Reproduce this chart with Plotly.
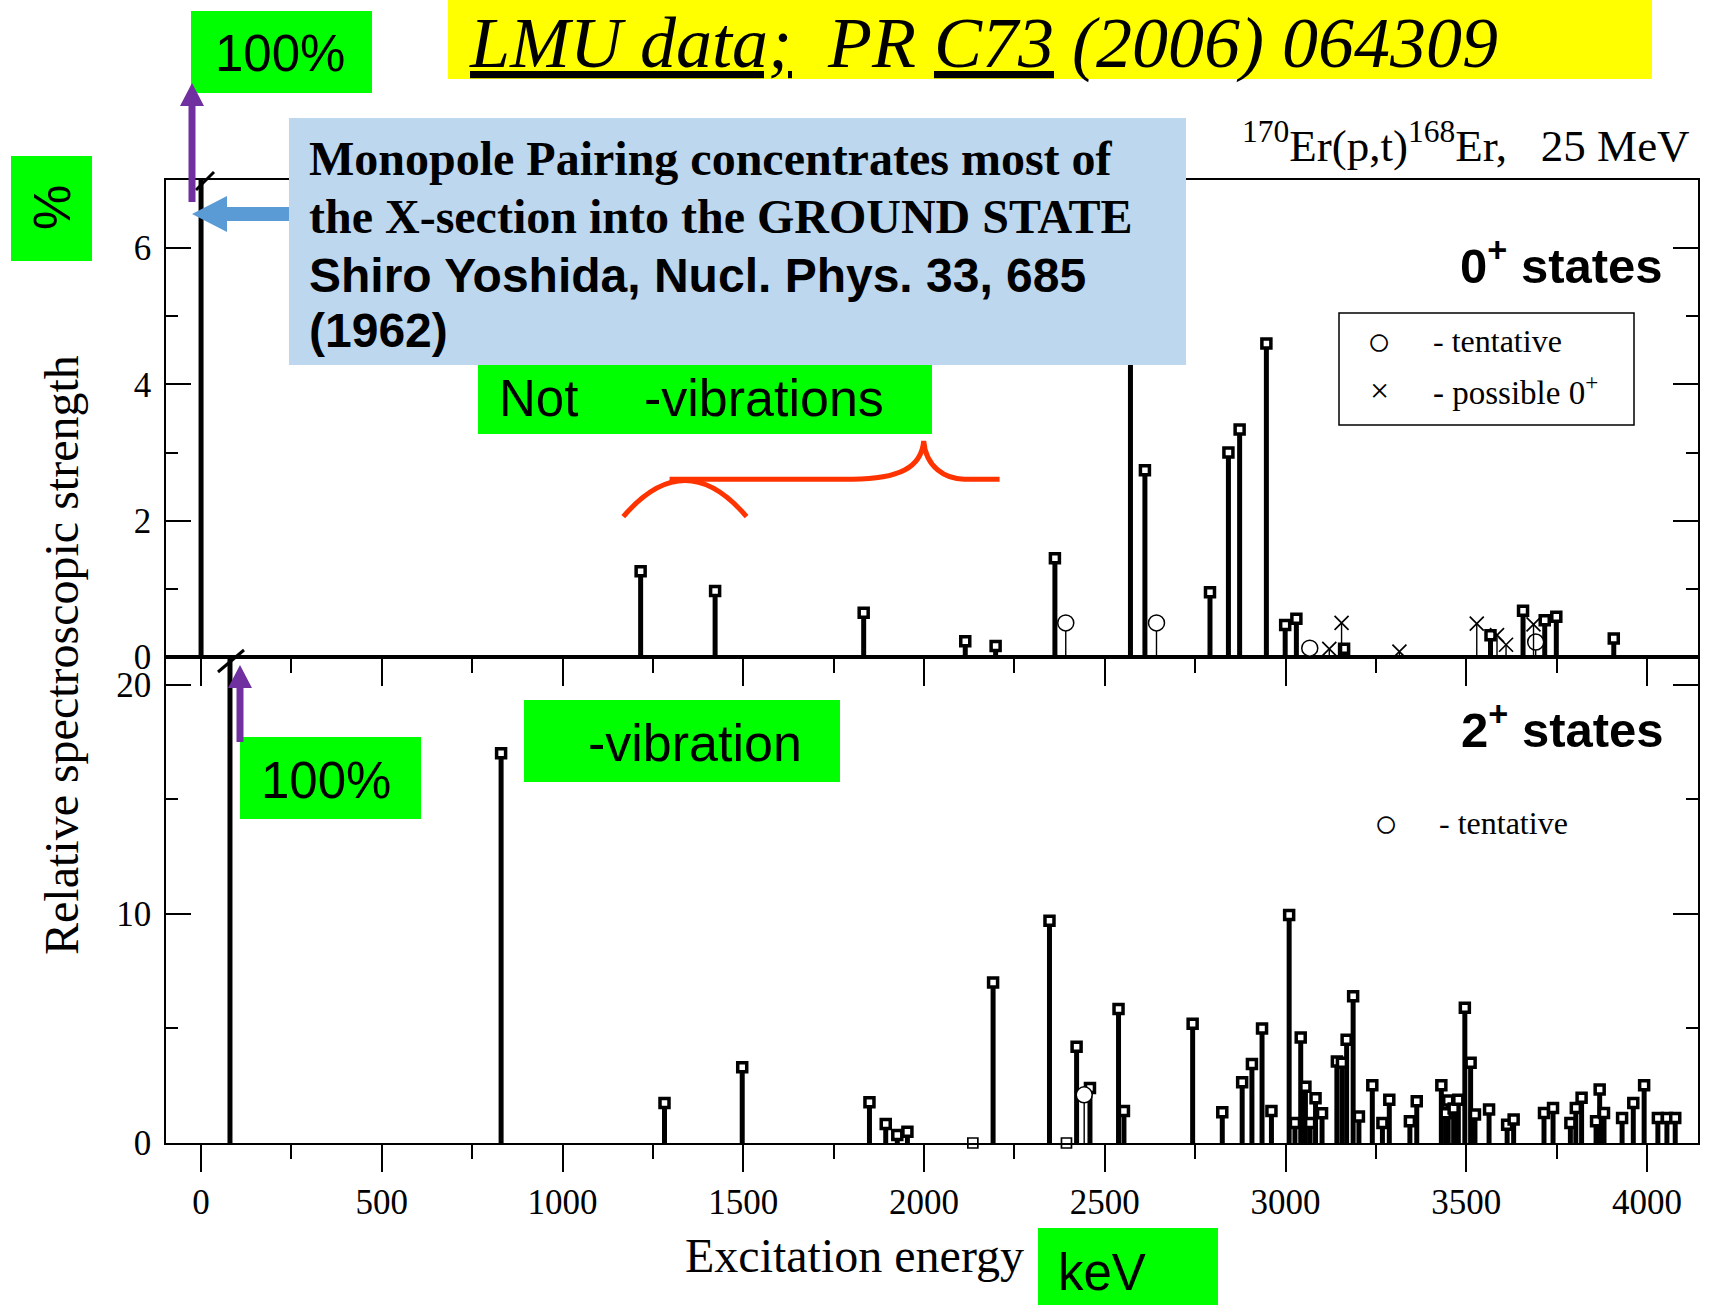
import plotly.graph_objects as go

W, H = 1709, 1305

# ---------------- data ----------------
# 0+ states, upper panel (keV, relative strength)
e0_firm = [0, 1216, 1422, 1833, 2114, 2198, 2362, 2571, 2611, 2791, 2842, 2873,
           2947, 2999, 3030, 3162, 3567, 3657, 3717, 3749, 3908]
s0_firm = [100, 1.26, 0.97, 0.65, 0.23, 0.16, 1.45, 5.2, 2.74, 0.95, 3.0, 3.34,
           4.6, 0.47, 0.56, 0.12, 0.32, 0.68, 0.54, 0.59, 0.27]
e0_tent = [2392, 2643, 3067, 3692]
s0_tent = [0.5, 0.5, 0.13, 0.22]
e0_poss = [3121, 3155, 3315, 3529, 3585, 3610, 3686]
s0_poss = [0.12, 0.5, 0.08, 0.49, 0.32, 0.18, 0.48]

# 2+ states, lower panel
e2_firm = [80, 830, 1282, 1497, 1849, 1894, 1926, 1954, 2191, 2347, 2422, 2459,
           2538, 2553, 2743, 2825, 2880, 2907, 2935, 2961, 3010, 3026, 3042, 3055,
           3068, 3083, 3101, 3142, 3156, 3169, 3187, 3203, 3240, 3268, 3287, 3344,
           3363, 3431, 3443, 3450, 3465, 3478, 3496, 3512, 3524, 3563, 3613, 3631,
           3715, 3740, 3788, 3803, 3819, 3859, 3869, 3881, 3931, 3962, 3992, 4030,
           4055, 4078]
s2_firm = [100, 17.0, 1.75, 3.3, 1.78, 0.83, 0.35, 0.49, 7.0, 9.7, 4.2, 2.4,
           5.85, 1.4, 5.2, 1.34, 2.65, 3.45, 5.0, 1.4, 9.95, 0.87, 4.6, 2.45,
           0.87, 1.95, 1.3, 3.55, 3.5, 4.5, 6.4, 1.16, 2.52, 0.87, 1.89, 0.95,
           1.82, 2.52, 1.3, 1.85, 1.5, 1.89, 5.9, 3.5, 1.24, 1.46, 0.8, 1.02,
           1.31, 1.53, 0.87, 1.53, 1.97, 0.95, 2.33, 1.31, 1.09, 1.75, 2.52, 1.09,
           1.09, 1.09]
e2_zero = [2135, 2394]
s2_zero = [0, 0]
e2_tent = [2443]
s2_tent = [2.1]

x_ticks = [0, 500, 1000, 1500, 2000, 2500, 3000, 3500, 4000]
x_range = [-97, 4141]
y0_range = [0, 7]
y2_range = [0, 21.2]

SERIF = "Liberation Serif"
SANS = "Liberation Sans"


def stems(xs, ys):
    sx, sy = [], []
    for x, y in zip(xs, ys):
        sx += [x, x, None]
        sy += [0, y, None]
    return sx, sy


def px(x):
    return x / W


def py(y):
    return 1 - y / H


fig = go.Figure()

def add_panel(xa, ya, ef, sf, et, st, ep=None, sp=None):
    x, y = stems(ef, sf)
    fig.add_trace(go.Scatter(x=x, y=y, mode="lines", xaxis=xa, yaxis=ya,
                             line=dict(color="black", width=5), hoverinfo="skip"))
    fig.add_trace(go.Scatter(x=ef, y=sf, mode="markers", xaxis=xa, yaxis=ya,
                             marker=dict(symbol="square", size=9, color="white",
                                         line=dict(color="black", width=3.5))))
    x, y = stems(et, st)
    fig.add_trace(go.Scatter(x=x, y=y, mode="lines", xaxis=xa, yaxis=ya,
                             line=dict(color="black", width=1.4), hoverinfo="skip"))
    fig.add_trace(go.Scatter(x=et, y=st, mode="markers", xaxis=xa, yaxis=ya,
                             marker=dict(symbol="circle", size=16, color="white",
                                         line=dict(color="black", width=1.5))))
    if ep is not None:
        x, y = stems(ep, sp)
        fig.add_trace(go.Scatter(x=x, y=y, mode="lines", xaxis=xa, yaxis=ya,
                                 line=dict(color="black", width=1.4), hoverinfo="skip"))
        fig.add_trace(go.Scatter(x=ep, y=sp, mode="markers", xaxis=xa, yaxis=ya,
                                 marker=dict(symbol="x-thin-open", size=14, color="black",
                                             line=dict(color="black", width=1.7))))

add_panel("x2", "y2", e0_firm, s0_firm, e0_tent, s0_tent, e0_poss, s0_poss)
add_panel("x", "y", e2_firm, s2_firm, e2_tent, s2_tent)
fig.add_trace(go.Scatter(x=e2_zero, y=s2_zero, mode="markers", cliponaxis=False,
                         marker=dict(symbol="square", size=10, color="white",
                                     line=dict(color="black", width=1.7))))

xd = [166 / W, 1698 / W]
dom_up = [py(657), py(180)]
dom_lo = [py(1143), py(657)]

axis_common = dict(showline=True, linecolor="black", linewidth=1.5, mirror=True,
                   showgrid=False, zeroline=False, automargin=False)

fig.update_layout(
    width=W, height=H, autosize=False,
    margin=dict(l=0, r=0, t=0, b=0, pad=0, autoexpand=False),
    paper_bgcolor="white", plot_bgcolor="white",
    showlegend=False,
    xaxis=dict(domain=xd, range=x_range, anchor="y", tickmode="array",
               tickvals=x_ticks, ticktext=[str(v) for v in x_ticks],
               ticks="outside", ticklen=27, tickwidth=1.5, tickcolor="black",
               minor=dict(dtick=250, tick0=0, ticks="outside", ticklen=14,
                          tickwidth=1.5, tickcolor="black"),
               tickfont=dict(family=SERIF, size=35, color="black"),
               ticklabelstandoff=0, **axis_common),
    xaxis2=dict(domain=xd, range=x_range, anchor="y2", tickmode="array",
                tickvals=x_ticks, showticklabels=False,
                ticks="outside", ticklen=27, tickwidth=1.5, tickcolor="black",
                minor=dict(dtick=250, tick0=0, ticks="outside", ticklen=14,
                           tickwidth=1.5, tickcolor="black"),
                **axis_common),
    yaxis=dict(domain=dom_lo, range=y2_range, anchor="x", dtick=10, tick0=0,
               ticks="inside", ticklen=25, tickwidth=1.5, tickcolor="black",
               minor=dict(dtick=5, ticks="inside", ticklen=12, tickwidth=1.5,
                          tickcolor="black"),
               tickfont=dict(family=SERIF, size=35, color="black"),
               ticklabelstandoff=6,
               **{**axis_common, "mirror": "ticks"}),
    yaxis2=dict(domain=dom_up, range=y0_range, anchor="x2", dtick=2, tick0=0,
                ticks="inside", ticklen=25, tickwidth=1.5, tickcolor="black",
                minor=dict(dtick=1, ticks="inside", ticklen=12, tickwidth=1.5,
                           tickcolor="black"),
                tickfont=dict(family=SERIF, size=35, color="black"),
                ticklabelstandoff=6,
                **{**axis_common, "mirror": "ticks"}),
)

shapes = []
annots = []

def rect(x0, y0, x1, y1, color, line=None):
    shapes.append(dict(type="rect", xref="paper", yref="paper", layer="above",
                       x0=px(x0), x1=px(x1), y0=py(y1), y1=py(y0),
                       fillcolor=color,
                       line=dict(width=0) if line is None else line))

def text(x, y, s, size, family=SANS, xanchor="left", color="black", angle=0):
    annots.append(dict(xref="paper", yref="paper", x=px(x), y=py(y), text=s,
                       showarrow=False, xanchor=xanchor, yanchor="middle",
                       textangle=angle,
                       font=dict(family=family, size=size, color=color)))

def path_px(points, color):
    d = "M " + " L ".join(f"{px(a):.5f},{py(b):.5f}" for a, b in points) + " Z"
    shapes.append(dict(type="path", xref="paper", yref="paper", layer="above",
                       path=d, fillcolor=color, line=dict(color=color, width=0)))

# break slashes on the out-of-range ground-state bars
shapes.append(dict(type="line", xref="paper", yref="paper", layer="above",
                   x0=px(196), y0=py(190), x1=px(214), y1=py(172),
                   line=dict(color="black", width=3)))
shapes.append(dict(type="line", xref="paper", yref="paper", layer="above",
                   x0=px(218), y0=py(672), x1=px(244), y1=py(650),
                   line=dict(color="black", width=3)))

# yellow title box
rect(448, 0, 1652, 79, "#FFFF00")
text(467, 43, "<i><u>LMU data;</u>\u00a0\u00a0PR <u>C73</u> (2006) 064309</i>", 72, SERIF)

# green boxes
rect(191, 11, 372, 93, "#00FF00")
text(280, 53, "100%", 51, xanchor="center")
rect(11, 156, 92, 261, "#00FF00")
text(52, 208, "%", 51, xanchor="center", angle=-90)
rect(478, 363, 932, 434, "#00FF00")
text(497, 398, "Not", 51)
text(642, 398, "-vibrations", 52)
rect(240, 737, 421, 819, "#00FF00")
text(326, 780, "100%", 51, xanchor="center")
rect(524, 700, 840, 782, "#00FF00")
text(586, 743, "-vibration", 52)
rect(1038, 1228, 1218, 1305, "#00FF00")
text(1056, 1272, "keV", 51)

# blue box
rect(289, 118, 1186, 365, "#BDD7EE")
text(307, 159, "<b>Monopole Pairing concentrates most of</b>", 48, SERIF)
text(307, 217, "<b>the X-section into the GROUND STATE</b>", 48, SERIF)
text(307, 275, "<b>Shiro Yoshida, Nucl. Phys. 33, 685</b>", 48, SANS)
text(307, 331, "<b>(1962)</b>", 48, SANS)

# blue arrow (pointing left)
path_px([(192, 214), (227, 196), (227, 207), (289, 207), (289, 221),
         (227, 221), (227, 232)], "#5B9BD5")
# purple arrows (pointing up)
path_px([(192, 83), (204, 106), (195.5, 106), (195.5, 202), (188.5, 202),
         (188.5, 106), (180, 106)], "#7030A0")
path_px([(240, 665), (252, 688), (243.5, 688), (243.5, 742), (236.5, 742),
         (236.5, 688), (228, 688)], "#7030A0")

# red brace in upper-panel data coordinates
RED = "#FF3300"
shapes.append(dict(type="path", xref="x2", yref="y2", layer="above",
                   path="M 1168,2.06 Q 1339,3.12 1509,2.06",
                   line=dict(color=RED, width=5)))
shapes.append(dict(type="path", xref="x2", yref="y2", layer="above",
                   path=("M 1296,2.61 L 1802,2.61 C 1930,2.61 1993,2.78 1999,3.17 "
                         "C 2005,2.78 2060,2.61 2111,2.61 L 2209,2.61"),
                   line=dict(color=RED, width=5)))

# reaction label
text(1692, 143, "<sup>170</sup>Er(p,t)<sup>168</sup>Er,\u00a0\u00a0\u00a025 MeV", 45,
     SERIF, xanchor="right")

# panel labels
text(1665, 262, "<b>0<sup>+</sup> states</b>", 49, SANS, xanchor="right")
text(1666, 726, "<b>2<sup>+</sup> states</b>", 49, SANS, xanchor="right")

# legend boxes
shapes.append(dict(type="rect", xref="paper", yref="paper", layer="above",
                   x0=px(1339), x1=px(1634), y0=py(425), y1=py(313),
                   line=dict(color="black", width=1.5), fillcolor="white"))
text(1379, 341, "○", 40, SERIF, xanchor="center")
text(1431, 341, "- tentative", 32, SERIF)
text(1379, 390, "×", 34, SERIF, xanchor="center")
text(1431, 390, "- possible 0<sup>+</sup>", 33, SERIF)
text(1386, 823, "○", 40, SERIF, xanchor="center")
text(1437, 823, "- tentative", 32, SERIF)

# axis titles
text(61, 655, "Relative spectroscopic strength", 48, SERIF, xanchor="center", angle=-90)
text(854, 1255, "Excitation energy", 48, SERIF, xanchor="center")

fig.update_layout(shapes=shapes, annotations=annots)
fig.write_html("out.html")
